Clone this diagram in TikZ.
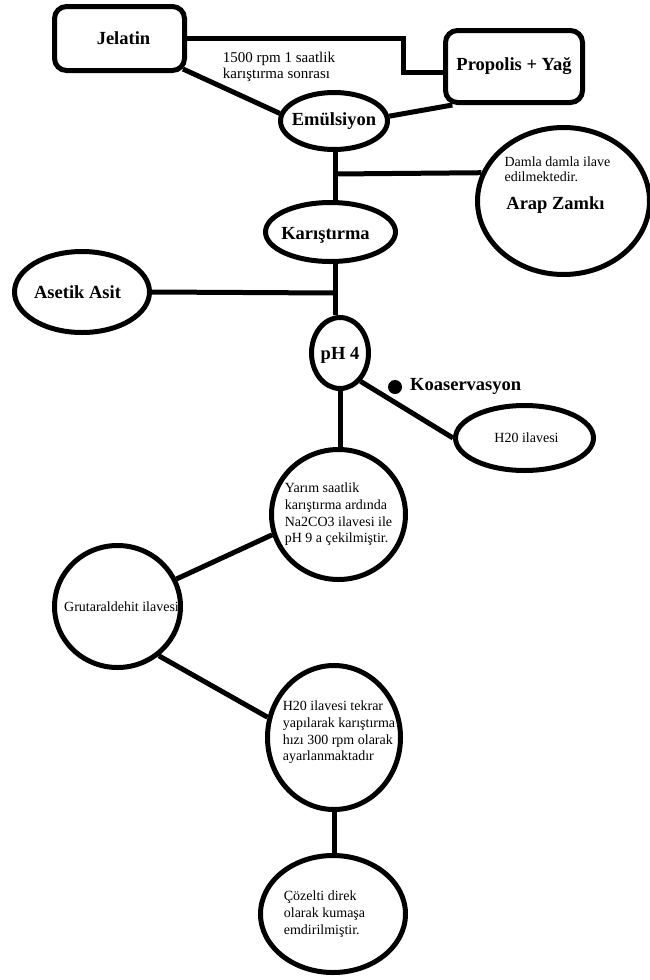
\documentclass[tikz,border=0pt]{standalone}
\usepackage{fontspec}
\setmainfont{Liberation Serif}
\usetikzlibrary{shapes.geometric}

\tikzset{
  baglanti/.style={line width=5pt},
  kutu/.style={draw, line width=5pt, rounded corners=12pt, inner sep=0pt},
  elips/.style={draw, ellipse, line width=5pt, inner sep=0pt},
  kalin/.style={font=\fontsize{18.5}{21}\selectfont\bfseries, inner sep=0pt},
  ince/.style={font=\fontsize{14}{16.7}\selectfont, align=left, inner sep=0pt},
}

\begin{document}
\begin{tikzpicture}[x=1pt, y=-1pt]
  \useasboundingbox (0,0) rectangle (650,980);
  % 方框
  \node[kutu, minimum width=130pt, minimum height=64pt,
        label={[kalin, xshift=4pt]center:Jelatin}] (jelatin) at (119.5,38.5) {};
  \node[kutu, minimum width=137pt, minimum height=72pt,
        label={[kalin]center:Propolis + Yağ}] (propolis) at (514,66.5) {};
  % 椭圆
  \node[elips, minimum width=107pt, minimum height=57pt,
        label={[kalin]center:Emülsiyon}] (emulsiyon) at (334,121) {};
  \node[elips, minimum width=172pt, minimum height=147pt] (arap) at (563.5,201) {};
  \node[elips, minimum width=130pt, minimum height=59pt,
        label={[kalin, xshift=-5pt, yshift=-3pt]center:Karıştırma}] (karistirma) at (330.5,232) {};
  \node[elips, minimum width=135pt, minimum height=81pt,
        label={[kalin, xshift=-4.5pt]center:Asetik Asit}] (asetik) at (82,292) {};
  \node[elips, minimum width=57pt, minimum height=71pt,
        label={[kalin, yshift=-2pt]center:pH 4}] (ph) at (340,353) {};
  \node[elips, minimum width=138pt, minimum height=65pt,
        label={[ince, xshift=2pt]center:H20 ilavesi}] (su) at (524.5,438) {};
  \node[elips, minimum width=134pt, minimum height=130pt,
        label={[ince]center:Yarım saatlik\\karıştırma ardında\\Na2CO3 ilavesi ile\\pH 9 a çekilmiştir.}]
    (yarim) at (338.5,514.5) {};
  \node[elips, minimum width=126pt, minimum height=122pt,
        label={[ince, xshift=4pt]center:Grutaraldehit ilavesi}] (grut) at (117.5,606.5) {};
  \node[elips, minimum width=133pt, minimum height=144pt,
        label={[ince, xshift=5pt, yshift=5pt]center:H20 ilavesi tekrar\\yapılarak karıştırma\\hızı 300 rpm olarak\\ayarlanmaktadır}]
    (tekrar) at (334,737.5) {};
  \node[elips, minimum width=145pt, minimum height=117pt,
        label={[ince, xshift=-8.5pt]center:Çözelti direk\\olarak kumaşa\\emdirilmiştir.}]
    (cozelti) at (333,914) {};
  % 文字
  \node[ince, font=\fontsize{15}{16}\selectfont] (aciklama) at (279,67)
    {1500 rpm 1 saatlik\\karıştırma sonrası};
  \node[ince, font=\fontsize{14}{15}\selectfont] (damla) at (557.5,169.5)
    {Damla damla ilave\\edilmektedir.};
  \node[kalin] (arapyazi) at (555.5,205) {Arap Zamkı};
  \node[circle, fill, inner sep=0pt, minimum size=14pt] (nokta) at (395,387) {};
  \node[kalin, anchor=west] (koaservasyon) at (410,386) {Koaservasyon};
  % 连线
  \coordinate (kirik) at (403,55);
  \coordinate (jkose) at ([shift={(-4pt,4pt)}]jelatin.south east);
  \coordinate (dal1) at (335,174);
  \coordinate (dal2) at (335,293);
  \draw[baglanti] (jelatin.east) -| (kirik) |- ([yshift=-5.5pt]propolis.west);
  \draw[baglanti] (emulsiyon.south -| dal1) -- (dal1 |- karistirma.north);
  \draw[baglanti] (karistirma.south -| dal2) -- (dal2 |- ph.north);
  \foreach \a/\b in {jkose/emulsiyon.172, propolis.-148/emulsiyon.5,
                     dal1/arap.161, dal2/asetik.east, ph.-54/su.west,
                     yarim.197/grut.25, grut.-50/tekrar.163}
    \draw[baglanti] (\a) -- (\b);
  \draw[baglanti] (ph.south) -- (ph.south |- yarim.north);
  \draw[baglanti] (tekrar.south) -- (tekrar.south |- cozelti.north);
\end{tikzpicture}
\end{document}
